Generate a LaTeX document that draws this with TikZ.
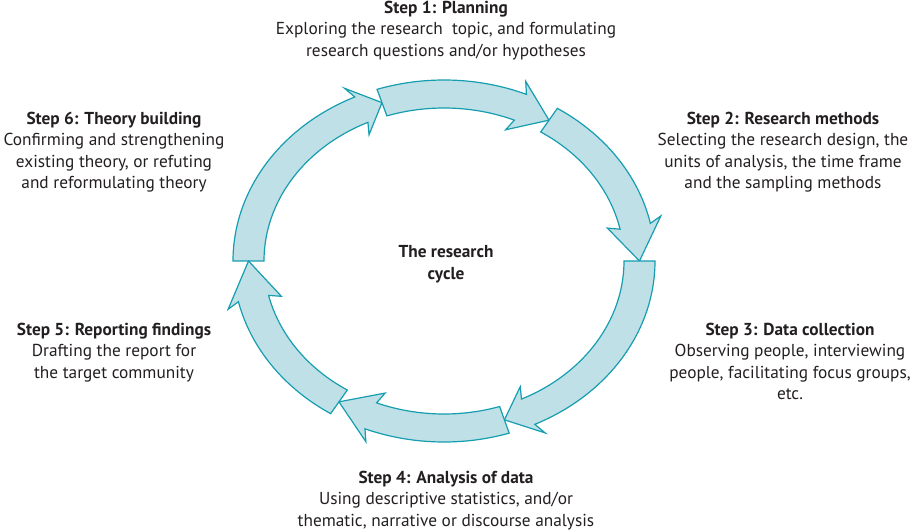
\documentclass[tikz,border=0pt]{standalone}
\usepackage{fontspec}
\setmainfont{PT Sans}
\begin{document}
\begin{tikzpicture}[x=1pt,y=1pt,
  arr/.style={draw=arrline, fill=arrfill, line width=1.2pt, line join=miter},
  lbl/.style={align=center, inner sep=0pt, anchor=north, text=txt,
    font=\fontsize{17.3}{21.5}\selectfont}]
\definecolor{arrfill}{RGB}{190,224,230}
\definecolor{arrline}{RGB}{22,158,176}
\definecolor{txt}{RGB}{35,31,32}
\useasboundingbox (0,0) rectangle (911,530);
\newcommand\cyclearrow[3]{%
 \draw[arr] ({444+211*cos(#1)},{269+181*sin(#1)})
   arc[start angle=#1, end angle=#2, x radius=211pt, y radius=181pt]
   -- ({444+223*cos(#2+1.5)},{269+193*sin(#2+1.5)})
   -- ({444+195.5*cos(#3)},{269+167*sin(#3)})
   -- ({444+168*cos(#2+1.5)},{269+141*sin(#2+1.5)})
   -- ({444+180*cos(#2)},{269+153*sin(#2)})
   arc[start angle=#2, end angle=#1, x radius=180pt, y radius=153pt]
   -- cycle;}
\cyclearrow{180}{115}{108.5}
\cyclearrow{108.5}{67}{57.5}
\cyclearrow{57.5}{12}{0}
\cyclearrow{0}{-64.5}{-72}
\cyclearrow{-72}{-112}{-122.5}
\cyclearrow{-122.5}{-167}{-180}
\node[lbl] (s1) at (446,529.5) {\textbf{Step 1: Planning}\\Exploring the research\ \ topic, and formulating\\research questions and/or hypotheses};
\node[lbl] (s2) at (783,418.5) {\textbf{Step 2: Research methods}\\Selecting the research design, the\\units of analysis, the time frame\\and the sampling methods};
\node[lbl] (s3) at (790,207.5) {\textbf{Step 3: Data collection}\\Observing people, interviewing\\people, facilitating focus groups,\\etc.};
\node[lbl] (s4) at (446,59.5) {\textbf{Step 4: Analysis of data}\\Using descriptive statistics, and/or\\thematic, narrative or discourse analysis};
\node[lbl] (s5) at (114,207.5) {\textbf{Step 5: Reporting findings}\\Drafting the report for\\the target community};
\node[lbl] (s6) at (114,418.5) {\textbf{Step 6: Theory building}\\Confirming and strengthening\\existing theory, or refuting\\and reformulating theory};
\node[lbl] (c) at (446,284.5) {\textbf{The research}\\\textbf{cycle}};
\end{tikzpicture}
\end{document}
